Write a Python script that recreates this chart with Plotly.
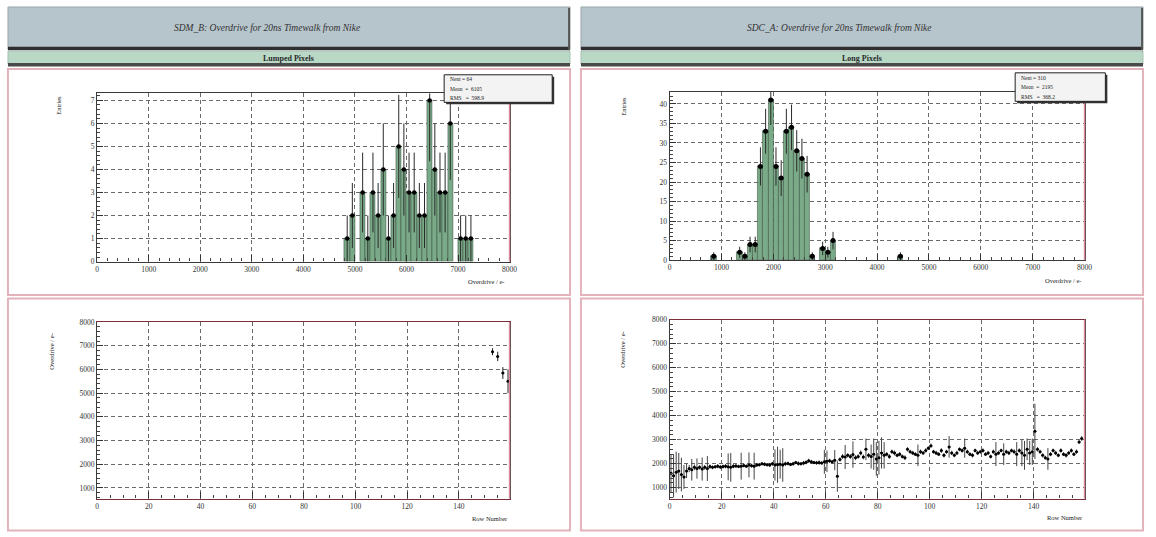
import plotly.graph_objects as go
import numpy as np

W, H = 1156, 537

# ---------------- data ----------------
# Lumped pixels histogram (bins of 100 e-)
lumped_bin_lo = [4800, 4900, 5100, 5200, 5300, 5400, 5500, 5600, 5700, 5800, 5900,
                 6000, 6100, 6200, 6300, 6400, 6500, 6600, 6700, 6800, 7000, 7100, 7200]
lumped_counts = [1, 2, 3, 1, 3, 2, 4, 1, 2, 5, 4,
                 3, 3, 2, 2, 7, 4, 3, 3, 6, 1, 1, 1]

# Long pixels histogram (bins of 100 e-)
long_bin_lo = [800, 1300, 1400, 1500, 1600, 1700, 1800, 1900, 2000, 2100, 2200,
               2300, 2400, 2500, 2600, 2700, 2900, 3000, 3100, 4400]
long_counts = [1, 2, 1, 4, 4, 24, 33, 41, 24, 21, 33,
               34, 28, 26, 22, 1, 3, 2, 5, 1]

# Lumped pixels overdrive vs row
lumped_rows = [153, 155, 157, 159]
lumped_od = [6750, 6550, 5850, 5500]
lumped_od_err = [150, 200, 250, 500]

# Long pixels overdrive vs row (rows 0..158)
long_od = [
    1600, 1500, 1650, 1700, 1550, 1450, 1700, 1800, 1750, 1850,
    1800, 1850, 1780, 1850, 1800, 1880, 1850, 1870, 1900, 1860,
    1880, 1900, 1870, 1850, 1900, 1910, 1890, 1900, 1930, 1900,
    1950, 1920, 1900, 1950, 1960, 2000, 1980, 1960, 1950, 2000,
    1950, 1960, 1980, 1950, 2000, 2010, 1970, 2000, 2050, 2010,
    2000, 2030, 2060, 2120, 2080, 2050, 2040, 2050, 2030, 2080,
    2100, 2120, 2080, 2150, 1480, 2180, 2300, 2280, 2350, 2300,
    2380, 2250, 2300, 2450, 2280, 2600, 2350, 2300, 2400, 2200,
    2250, 2450, 2350, 2400, 2300, 2500, 2450, 2350, 2400, 2300,
    2250, 2600, 2500, 2450, 2400, 2350, 2500, 2450, 2550, 2650,
    2750, 2500, 2450, 2400, 2550, 2350, 2500, 2700, 2450, 2350,
    2450, 2600, 2550, 2650, 2500, 2400, 2350, 2550, 2450, 2500,
    2550, 2400, 2450, 2300, 2500, 2400, 2450, 2550, 2400, 2500,
    2450, 2550, 2500, 2400, 2550, 2450, 2350, 2600, 2450, 2500,
    3350, 2600, 2500, 2350, 2250, 2200, 2400, 2550, 2450, 2350,
    2550, 2400, 2350, 2450, 2550, 2400, 2500, 2900, 3050,
]
long_od_err = [
    800, 900, 850, 750, 700, 500, 300, 150, 450, 120,
    420, 90, 480, 100, 520, 90, 80, 70, 90, 80,
    80, 90, 560, 600, 90, 80, 70, 560, 80, 70,
    520, 80, 560, 80, 70, 70, 80, 70, 90, 80,
    650, 750, 600, 700, 90, 80, 70, 80, 70, 90,
    70, 90, 80, 90, 80, 70, 80, 90, 70, 500,
    450, 90, 80, 420, 650, 90, 100, 500, 90, 100,
    550, 100, 90, 100, 100, 450, 100, 500, 650, 700,
    700, 650, 550, 90, 100, 90, 100, 80, 90, 80,
    100, 90, 80, 90, 80, 450, 90, 80, 90, 80,
    90, 80, 90, 80, 100, 90, 80, 450, 90, 80,
    90, 80, 90, 400, 90, 80, 90, 80, 90, 80,
    90, 80, 90, 80, 90, 500, 90, 80, 450, 90,
    90, 80, 100, 500, 90, 550, 600, 450, 500, 550,
    1150, 90, 80, 90, 80, 450, 90, 80, 90, 80,
    90, 80, 90, 80, 90, 80, 90, 80, 100,
]
long_rows = list(range(len(long_od)))

titles = ["SDM_B: Overdrive for 20ns Timewalk from Nike",
          "SDC_A: Overdrive for 20ns Timewalk from Nike"]
subtitles = ["Lumped Pixels", "Long Pixels"]

BIN_W = 100

# ---------------- helpers ----------------
def fx(px):
    return px / W

def fy(py):
    return 1 - py / H

FONT = "Liberation Serif"
GREEN = "#7aaa88"
GRIDC = "#6a6a6a"

fig = go.Figure()

def add_hist(lo, counts, xa, ya, msize):
    centers = [v + BIN_W / 2 for v in lo]
    errs = [float(np.sqrt(c)) for c in counts]
    fig.add_trace(go.Bar(x=centers, y=counts, width=BIN_W, marker=dict(color=GREEN,
                         line=dict(color="#34493b", width=0.5)),
                         xaxis=xa, yaxis=ya, hoverinfo="skip"))
    fig.add_trace(go.Scatter(x=centers, y=counts, mode="markers",
                             marker=dict(color="black", size=msize, symbol="circle"),
                             error_y=dict(type="data", array=errs, color="#2a2a2a", thickness=1, width=0),
                             error_x=dict(type="constant", value=BIN_W / 2, color="#222", thickness=1, width=0),
                             xaxis=xa, yaxis=ya))

add_hist(lumped_bin_lo, lumped_counts, "x", "y", 4.5)
add_hist(long_bin_lo, long_counts, "x2", "y2", 5)

fig.add_trace(go.Scatter(x=lumped_rows, y=lumped_od, mode="markers",
                         marker=dict(color="black", size=3),
                         error_y=dict(type="data", array=lumped_od_err, color="#222", thickness=1, width=0),
                         error_x=dict(type="constant", value=0.5, color="#222", thickness=1, width=0),
                         xaxis="x3", yaxis="y3"))
fig.add_trace(go.Scatter(x=[r + 0.5 for r in long_rows], y=long_od, mode="markers",
                         marker=dict(color="black", size=3),
                         error_y=dict(type="data", array=long_od_err, color="#444", thickness=1, width=0),
                         error_x=dict(type="constant", value=0.5, color="#222", thickness=1.2, width=0),
                         xaxis="x4", yaxis="y4"))

# ---------------- axes ----------------
def axis(domain, rng, dtick, minor_dtick, anchor, linecolor="#3a3a3a"):
    return dict(domain=domain, range=rng, dtick=dtick, tick0=0, anchor=anchor,
                showgrid=True, gridcolor=GRIDC, griddash="4px,3px", gridwidth=1,
                zeroline=False, showline=True, mirror=True, linecolor=linecolor, linewidth=1.3,
                ticks="inside", ticklen=6, tickcolor="#333", tickwidth=1,
                minor=dict(ticks="inside", ticklen=3, dtick=minor_dtick, tickcolor="#444", showgrid=False),
                tickfont=dict(family=FONT, size=7.5, color="#333"), fixedrange=True)

L_X = [fx(96), fx(512)]
R_X = [fx(673.5), fx(1092)]

fig.update_layout(
    xaxis=axis(L_X, [0, 8000], 1000, 200, "y"),
    yaxis=axis([fy(262), fy(91)], [0, 7.3], 1, 0.2, "x"),
    xaxis2=axis(R_X, [0, 8000], 1000, 200, "y2"),
    yaxis2=axis([fy(260.5), fy(89.5)], [0, 43.05], 5, 1, "x2"),
    xaxis3=axis(L_X, [0, 159.6], 20, 5, "y3", linecolor="#7a2e3c"),
    yaxis3=axis([fy(503), fy(323.5)], [550, 8000], 1000, 200, "x3"),
    xaxis4=axis(R_X, [0, 159.6], 20, 5, "y4", linecolor="#7a2e3c"),
    yaxis4=axis([fy(503), fy(321)], [550, 8000], 1000, 200, "x4"),
)

# ---------------- decorations ----------------
shapes = []
annots = []

def rect(x0, y0, x1, y1, fill=None, line=None, lw=0, layer="below"):
    shapes.append(dict(type="rect", xref="paper", yref="paper",
                       x0=fx(x0), x1=fx(x1), y0=fy(y1), y1=fy(y0),
                       fillcolor=fill if fill else "rgba(0,0,0,0)",
                       line=dict(color=line if line else "rgba(0,0,0,0)", width=lw),
                       layer=layer))

def text(x, y, s, size=8, xanchor="center", yanchor="middle", angle=0, color="#222", style="normal", weight="normal"):
    annots.append(dict(x=fx(x), y=fy(y), xref="paper", yref="paper", text=s, showarrow=False,
                       xanchor=xanchor, yanchor=yanchor, textangle=angle,
                       font=dict(family=FONT, size=size, color=color, style=style, weight=weight)))

cols = [(6, 573), (584, 1151)]
for i, (a, b) in enumerate(cols):
    # title box
    rect(a, 3, b, 46, fill="#b6c4cb", line="#8e9aa0", lw=0.8)
    rect(a, 43.5, b, 47, fill="#2f2f2f")
    rect(b - 2, 4, b, 47, fill="#555")
    # subtitle bar
    rect(a, 48, b, 61, fill="#b9d8c6", line="#9fb8aa", lw=0.8)
    rect(a, 60, b, 63.5, fill="#4a4a4a")
    # panels
    rect(a, 66, b, 296, fill="white", line="#e2b3bb", lw=2)
    rect(a, 299.5, b, 535.5, fill="white", line="#e2b3bb", lw=2)
    cx = [267, 845][i]
    text(cx, 24, titles[i], size=9.5, style="italic", color="#333")
    text((a + b) / 2, 55, subtitles[i], size=8, weight="bold", color="#2a2a2a")

# right-side pink frame edges
for (xr, y0, y1) in [(512, 91, 262), (1092, 89.5, 260.5), (512, 323.5, 503), (1092, 321, 503)]:
    shapes.append(dict(type="line", xref="paper", yref="paper", x0=fx(xr), x1=fx(xr),
                       y0=fy(y0), y1=fy(y1), line=dict(color="#d98a98", width=1.5), layer="above"))

# stats boxes
def stats_box(x0, y0, x1, y1, lo, counts):
    centers = np.array(lo, dtype=float) + BIN_W / 2
    c = np.array(counts, dtype=float)
    n = int(c.sum())
    mean = float((centers * c).sum() / c.sum())
    rms = float(np.sqrt((c * (centers - mean) ** 2).sum() / c.sum()))
    rect(x0 + 2, y0 + 2, x1 + 2, y1 + 2, fill="#333", layer="above")
    rect(x0, y0, x1, y1, fill="#f3f3f3", line="#222", lw=1, layer="above")
    lines = [f"Nent = {n}", f"Mean  =  {mean:.0f}", f"RMS   =  {rms:.1f}"]
    h = (y1 - y0) / 3
    for k, s in enumerate(lines):
        text(x0 + 4, y0 + h * (k + 0.5), s, size=5.5, xanchor="left", color="#222")

stats_box(446, 72, 555, 100, lumped_bin_lo, lumped_counts)
stats_box(1022, 70, 1113, 99, long_bin_lo, long_counts)

# axis titles
text(57, 103, "Entries", size=6.5, angle=-90)
text(627, 104, "Entries", size=6.5, angle=-90)
text(508, 282, "Overdrive / e-", size=6.5, xanchor="right")
text(1090, 281, "Overdrive / e-", size=6.5, xanchor="right")
text(49, 354, "Overdrive / e-", size=6.5, angle=-90)
text(626, 352, "Overdrive / e-", size=6.5, angle=-90)
text(512, 523, "Row Number", size=6.5, xanchor="right")
text(1092, 522, "Row Number", size=6.5, xanchor="right")

fig.update_layout(shapes=shapes, annotations=annots,
                  width=W, height=H, autosize=False,
                  margin=dict(l=0, r=0, t=0, b=0),
                  paper_bgcolor="white", plot_bgcolor="rgba(0,0,0,0)",
                  showlegend=False, bargap=0)

fig.write_html("out.html")
